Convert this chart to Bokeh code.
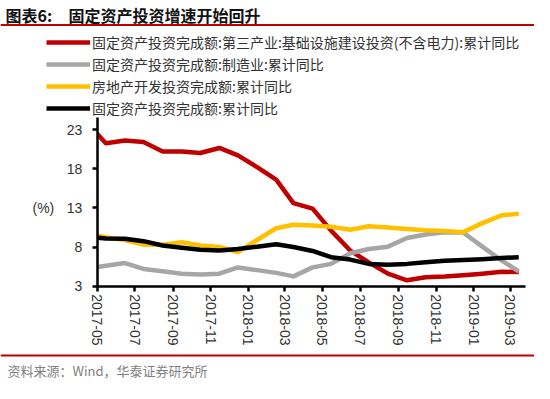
import pandas as pd
from bokeh.plotting import figure
from bokeh.models import (Range1d, FixedTicker, DatetimeTickFormatter, Label,
                          Legend, LegendItem, Span, BoxAnnotation)
from bokeh.embed import file_html
from bokeh.resources import INLINE

# ---------------- data ----------------
months = ["2017-04", "2017-05", "2017-06", "2017-07", "2017-08", "2017-09",
          "2017-10", "2017-11", "2017-12", "2018-01", "2018-02", "2018-03",
          "2018-04", "2018-05", "2018-06", "2018-07", "2018-08", "2018-09",
          "2018-10", "2018-11", "2018-12", "2019-01", "2019-02", "2019-03"]
infra = [23.8, 21.25, 21.6, 21.4, 20.2, 20.2, 20.0, 20.65, 19.7, 18.2, 16.6, 13.6,
         12.9, 10.1, 7.55, 6.05, 4.6, 3.75, 4.15, 4.25, 4.4, 4.6, 4.85, 4.8]
manuf = [5.25, 5.6, 5.95, 5.2, 4.9, 4.6, 4.5, 4.6, 5.4, 5.05, 4.7, 4.25,
         5.4, 5.85, 7.2, 7.75, 8.05, 9.15, 9.6, 9.9, 9.85, 8.05, 6.3, 4.9]
realty = [9.7, 9.25, 8.9, 8.3, 8.3, 8.6, 8.2, 8.0, 7.35, 8.9, 10.4, 10.85,
          10.75, 10.6, 10.2, 10.65, 10.5, 10.3, 10.15, 10.05, 9.9, 11.05, 12.05, 12.25]
total = [9.3, 9.1, 9.05, 8.75, 8.2, 7.9, 7.65, 7.55, 7.75, 8.05, 8.35, 8.0,
         7.5, 6.7, 6.4, 5.85, 5.75, 5.85, 6.05, 6.25, 6.35, 6.45, 6.6, 6.7]

series_names = ["固定资产投资完成额:第三产业:基础设施建设投资(不含电力):累计同比",
                "固定资产投资完成额:制造业:累计同比",
                "房地产开发投资完成额:累计同比",
                "固定资产投资完成额:累计同比"]
series_colors = ["#c00000", "#a6a6a6", "#ffc000", "#000000"]

y_ticks = [3, 8, 13, 18, 23]
x_tick_labels = ["2017-05", "2017-07", "2017-09", "2017-11", "2018-01", "2018-03",
                 "2018-05", "2018-07", "2018-09", "2018-11", "2019-01", "2019-03"]

title_tag = "图表6:"
title_text = "固定资产投资增速开始回升"
source_text = "资料来源：Wind，华泰证券研究所"
y_unit = "(%)"

# ---------------- layout ----------------
W, H = 534, 383
X_MIN, X_MAX = pd.Timestamp("2017-05-01"), pd.Timestamp("2019-03-26")
Y_MIN, Y_MAX = 3.0, 24.5
# plot-area edges in canvas pixels
AX_L, AX_R, AX_T, AX_B = 96.7, 525.0, 117.3, 285.7

ms = lambda t: t.value / 1e6
sx = (AX_R - AX_L) / (ms(X_MAX) - ms(X_MIN))
sy = (AX_B - AX_T) / (Y_MAX - Y_MIN)
x_start = ms(X_MIN) - AX_L / sx
x_end = ms(X_MAX) + (W - AX_R) / sx
y_start = Y_MIN - (H - AX_B) / sy
y_end = Y_MAX + AX_T / sy

def data_y(iy):
    return Y_MIN + (AX_B - iy) / sy

def fy(iy):
    return H - iy

dates = pd.to_datetime(months) + pd.Timedelta(days=14)   # monthly values plotted mid-month

p = figure(width=W, height=H, x_axis_type="datetime", output_backend="svg",
           toolbar_location=None,
           x_range=Range1d(x_start, x_end), y_range=Range1d(y_start, y_end),
           min_border_left=0, min_border_right=0, min_border_top=0, min_border_bottom=0)
p.outline_line_color = None
p.grid.visible = False
p.background_fill_color = "white"
p.border_fill_color = "white"

rends = []
for vals, col in zip([infra, manuf, realty, total], series_colors):
    r = p.line(dates, vals, line_color=col, line_width=4.5, line_join="round",
               level="underlay")
    rends.append(r)

# white mask emulating the clipping of the lines at the y axis
p.add_layout(BoxAnnotation(right=ms(X_MIN), bottom=Y_MIN, top=Y_MAX,
                           fill_color="white", fill_alpha=1, line_color=None,
                           level="glyph"))

# axes
xt = [pd.Timestamp(m).value // 10**6 for m in x_tick_labels]
p.xaxis.ticker = FixedTicker(ticks=xt)
fmt = "%Y-%m"
p.xaxis.formatter = DatetimeTickFormatter(milliseconds=fmt, seconds=fmt, minsec=fmt,
                                          minutes=fmt, hourmin=fmt, hours=fmt,
                                          days=fmt, months=fmt, years=fmt)
p.xaxis.major_label_orientation = "vertical"
p.xaxis.fixed_location = Y_MIN
p.xaxis.bounds = (ms(X_MIN), ms(X_MAX))
p.yaxis.ticker = FixedTicker(ticks=y_ticks)
p.yaxis.fixed_location = ms(X_MIN)
p.yaxis.bounds = (Y_MIN, Y_MAX)
for ax in (p.xaxis, p.yaxis):
    ax.axis_line_color = "black"
    ax.axis_line_width = 2.5
    ax.major_tick_line_color = "black"
    ax.major_tick_line_width = 2.5
    ax.major_tick_in = 0
    ax.major_tick_out = 5
    ax.minor_tick_line_color = None
    ax.major_label_text_font = "Liberation Sans"
    ax.major_label_text_font_size = "14px"
    ax.major_label_text_color = "#333333"
p.xaxis.major_label_standoff = 3
p.yaxis.major_label_standoff = 10

# legend (above the plot area)
items = [LegendItem(label=n, renderers=[r]) for n, r in zip(series_names, rends)]
leg = Legend(items=items, location=(46, fy(118.3)), orientation="vertical",
             padding=0, margin=0, spacing=2, glyph_width=44, glyph_height=20,
             label_height=20, label_standoff=2, border_line_alpha=0,
             background_fill_alpha=0, label_text_font="Noto Sans CJK SC",
             label_text_font_size="14px", label_text_color="#333333")
p.add_layout(leg, "center")

# texts
p.add_layout(Label(x=5, y=fy(14.5), x_units="screen", y_units="screen",
                   text=title_tag, text_font="Noto Sans CJK SC", text_font_style="bold",
                   text_font_size="16px", text_color="#111111", text_baseline="middle"))
p.add_layout(Label(x=68, y=fy(14.5), x_units="screen", y_units="screen",
                   text=title_text, text_font="Noto Sans CJK SC", text_font_style="bold",
                   text_font_size="16px", text_color="#111111", text_baseline="middle"))
p.add_layout(Label(x=32, y=fy(207), x_units="screen", y_units="screen",
                   text=y_unit, text_font="Liberation Sans",
                   text_font_size="14px", text_color="#333333", text_baseline="middle"))
p.add_layout(Label(x=7, y=fy(370), x_units="screen", y_units="screen",
                   text=source_text, text_font="Noto Sans CJK SC",
                   text_font_size="13px", text_color="#7f7f7f", text_baseline="middle"))

# red rules under the title and above the source
for iy in (24.5, 355):
    p.add_layout(Span(location=data_y(iy), dimension="width",
                      line_color="#c00000", line_width=2))

open("out.html", "w").write(file_html(p, INLINE))
